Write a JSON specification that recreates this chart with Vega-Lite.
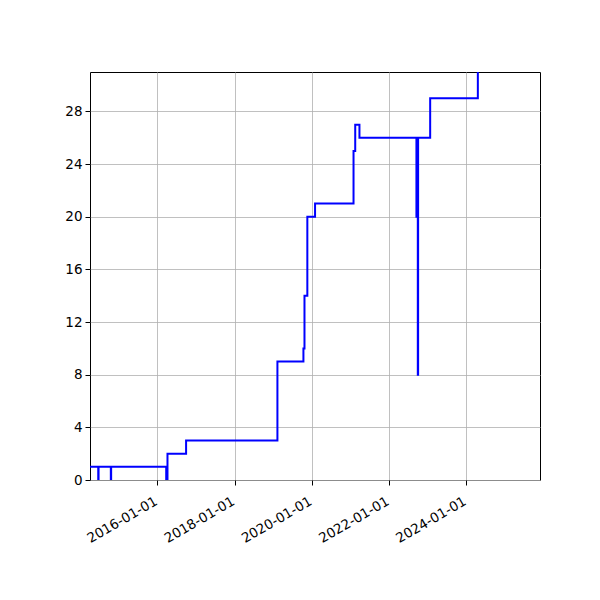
{
  "$schema": "https://vega.github.io/schema/vega-lite/v6.json",
  "width": 450,
  "height": 408,
  "autosize": {"type": "none"},
  "padding": {"left": 90, "top": 72, "right": 60, "bottom": 120},
  "background": "white",
  "config": {
    "view": {"stroke": "black", "strokeWidth": 1},
    "axis": {
      "domain": false,
      "grid": true,
      "gridColor": "#b0b0b0",
      "gridWidth": 0.8,
      "tickColor": "black",
      "tickSize": 5,
      "tickWidth": 1,
      "labelFont": "DejaVu Sans",
      "labelFontSize": 13.5,
      "labelColor": "black",
      "labelPadding": 3,
      "title": null
    }
  },
  "data": {
    "values": [
      {"date": "2014-04-01", "value": 1},
      {"date": "2014-06-20", "value": 0},
      {"date": "2014-06-23", "value": 1},
      {"date": "2014-10-17", "value": 0},
      {"date": "2014-10-20", "value": 1},
      {"date": "2016-03-24", "value": 0},
      {"date": "2016-04-05", "value": 2},
      {"date": "2016-09-28", "value": 3},
      {"date": "2019-02-09", "value": 9},
      {"date": "2019-10-13", "value": 10},
      {"date": "2019-10-23", "value": 14},
      {"date": "2019-11-19", "value": 20},
      {"date": "2020-01-31", "value": 21},
      {"date": "2021-01-29", "value": 25},
      {"date": "2021-02-14", "value": 27},
      {"date": "2021-03-26", "value": 26},
      {"date": "2022-09-16", "value": 20},
      {"date": "2022-09-29", "value": 8},
      {"date": "2022-10-02", "value": 26},
      {"date": "2023-01-24", "value": 29},
      {"date": "2024-04-19", "value": 33},
      {"date": "2025-12-31", "value": 33}
    ]
  },
  "mark": {"type": "line", "interpolate": "step-after", "color": "#0000ff", "strokeWidth": 2, "clip": true},
  "encoding": {
    "x": {
      "field": "date",
      "type": "temporal",
      "scale": {
        "type": "utc",
        "domain": [
          {"year": 2014, "month": 4, "date": 3, "utc": true},
          {"year": 2025, "month": 11, "date": 28, "utc": true}
        ]
      },
      "axis": {
        "values": [
          {"year": 2016, "month": 1, "date": 1, "utc": true},
          {"year": 2018, "month": 1, "date": 1, "utc": true},
          {"year": 2020, "month": 1, "date": 1, "utc": true},
          {"year": 2022, "month": 1, "date": 1, "utc": true},
          {"year": 2024, "month": 1, "date": 1, "utc": true}
        ],
        "format": "%Y-%m-%d",
        "labelAngle": -30,
        "labelAlign": "right",
        "labelBaseline": "top",
        "labelPadding": 9,
        "labelOffset": -5
      }
    },
    "y": {
      "field": "value",
      "type": "quantitative",
      "scale": {"domain": [0, 31], "nice": false, "zero": true},
      "axis": {"values": [0, 4, 8, 12, 16, 20, 24, 28]}
    }
  }
}
